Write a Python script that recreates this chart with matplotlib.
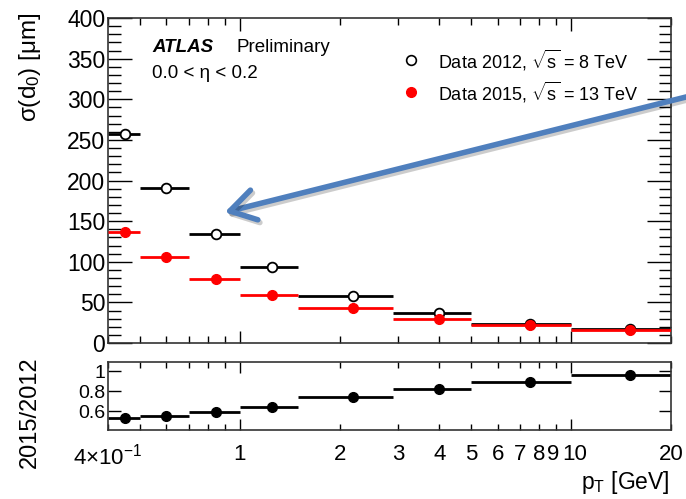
import matplotlib
matplotlib.use("Agg")
import matplotlib.pyplot as plt
from matplotlib.patches import FancyArrowPatch
import matplotlib.patheffects as pe
import matplotlib.transforms as mtransforms
import numpy as np

plt.rcParams['font.family'] = ['Liberation Sans', 'DejaVu Sans']
plt.rcParams['mathtext.fontset'] = 'custom'
plt.rcParams['mathtext.rm'] = 'Liberation Sans'
plt.rcParams['mathtext.it'] = 'Liberation Sans:italic'
plt.rcParams['mathtext.bf'] = 'Liberation Sans:bold'

# ---- data ----
bin_edges = [0.4, 0.5, 0.7, 1.0, 1.5, 2.9, 5.0, 10.0, 20.0]
bin_centers = [0.45, 0.6, 0.85, 1.25, 2.2, 4.0, 7.5, 15.0]
sigma_2012 = [257, 191, 134, 93, 58, 36.5, 24, 16.8]
sigma_2015 = [136.5, 106, 79, 59.5, 43, 30, 22, 16]
ratio = [0.537, 0.556, 0.593, 0.64, 0.74, 0.82, 0.894, 0.963]
ratio_err = [0.005, 0.005, 0.005, 0.005, 0.006, 0.008, 0.012, 0.03]

x_major = [1, 10]
x_major_labels = ['1', '10']
x_minor = [0.4, 0.5, 0.6, 0.7, 0.8, 0.9, 2, 3, 4, 5, 6, 7, 8, 9, 20]
x_minor_labels = ['4×10$^{-1}$', '', '', '', '', '', '2', '3', '4', '5',
                  '6', '7', '8', '9', '20']

W, H = 686, 499
fig = plt.figure(figsize=(W / 100, H / 100), dpi=100)

def fx(px):
    return px / W

def fy(py):
    return 1 - py / H

ax = fig.add_axes([fx(108), fy(343), fx(671) - fx(108), fy(18) - fy(343)])
axr = fig.add_axes([fx(108), fy(430), fx(671) - fx(108), fy(362) - fy(430)])

lo = bin_edges[:-1]
hi = bin_edges[1:]

# main panel
ax.hlines(sigma_2012, lo, hi, colors='black', lw=2)
ax.plot(bin_centers, sigma_2012, 'o', ms=7, mfc='white', mec='black', mew=1.3, zorder=3)
ax.hlines(sigma_2015, lo, hi, colors='red', lw=2, zorder=4)
ax.plot(bin_centers, sigma_2015, 'o', ms=7, mfc='red', mec='red', zorder=5)

for a in (ax, axr):
    a.set_xscale('log')
    a.set_xlim(0.4, 20)
    a.set_xticks(x_major)
    a.set_xticks(x_minor, minor=True)
    for s in a.spines.values():
        s.set_linewidth(1.2)
        s.set_color('#333333')

ax.set_ylim(0, 400)
ax.set_yticks(np.arange(0, 401, 50))
ax.set_yticks(np.arange(0, 401, 10), minor=True)
ax.tick_params(axis='y', which='major', direction='in', length=17, width=1,
               left=True, right=True, labelsize=16.5, pad=2)
ax.tick_params(axis='y', which='minor', direction='in', length=9, width=1,
               left=True, right=True)
ax.tick_params(axis='x', which='major', direction='in', length=9, width=1,
               top=True, bottom=True, labelbottom=False)
ax.tick_params(axis='x', which='minor', direction='in', length=5, width=1,
               top=True, bottom=True, labelbottom=False)

# ratio panel
axr.hlines(ratio, lo, hi, colors='black', lw=2)
axr.errorbar(bin_centers, ratio, yerr=ratio_err, fmt='o', ms=7, color='black',
             elinewidth=1.5, capsize=0, zorder=3)
axr.set_ylim(0.415, 1.09)
axr.set_yticks([0.6, 0.8, 1.0])
axr.set_yticklabels(['0.6', '0.8', '1'], fontsize=14)
axr.tick_params(axis='y', which='major', direction='in', length=9, width=1,
                left=True, right=True, pad=2)
axr.tick_params(axis='y', which='minor', left=False, right=False)
axr.tick_params(axis='x', which='major', direction='in', length=8, width=1,
                top=True, bottom=True, pad=10)
axr.tick_params(axis='x', which='minor', direction='in', length=4, width=1,
                top=True, bottom=True, pad=10)
axr.set_xticklabels(x_major_labels, fontsize=16)
axr.set_xticklabels(x_minor_labels, minor=True, fontsize=16)

# nudge the crowded "9" and "10" labels apart slightly
for lab in axr.xaxis.get_minorticklabels():
    if lab.get_text() == '9':
        lab.set_transform(lab.get_transform() +
                          mtransforms.ScaledTranslation(-3 / 100, 0, fig.dpi_scale_trans))
for lab in axr.xaxis.get_majorticklabels():
    if lab.get_text() == '10':
        lab.set_transform(lab.get_transform() +
                          mtransforms.ScaledTranslation(3 / 100, 0, fig.dpi_scale_trans))

# labels
fig.text(fx(30), fy(12), 'σ(d$_0$) [μm]', rotation=90, ha='center',
         va='top', fontsize=17.5)
fig.text(fx(30), fy(412), '2015/2012', rotation=90, ha='center', va='center',
         fontsize=17)
fig.text(fx(670), fy(483), 'p$_\\mathrm{T}$ [GeV]', ha='right', va='center',
         fontsize=16.5)

# ATLAS text
fig.text(fx(152), fy(47), 'ATLAS', fontsize=13.5, fontweight='bold',
         fontstyle='italic', va='center')
fig.text(fx(237), fy(47), 'Preliminary', fontsize=13.5, va='center')
fig.text(fx(152), fy(73), '0.0 < η < 0.2', fontsize=13.5, va='center')

# legend
fig.lines.append(plt.Line2D([fx(411)], [fy(60)], marker='o', ms=7, mfc='white',
                            mec='black', mew=1.2, transform=fig.transFigure))
fig.lines.append(plt.Line2D([fx(411)], [fy(92)], marker='o', ms=7, mfc='red',
                            mec='red', transform=fig.transFigure))
fig.text(fx(438), fy(60), 'Data 2012, $\\sqrt{\\mathrm{s}}$ = 8 TeV', fontsize=13,
         va='center')
fig.text(fx(438), fy(92), 'Data 2015, $\\sqrt{\\mathrm{s}}$ = 13 TeV', fontsize=13,
         va='center')

# blue arrow
arrow = FancyArrowPatch((fx(690), fy(96)), (fx(222), fy(213)),
                        transform=fig.transFigure,
                        arrowstyle='->,head_length=0.9,head_width=0.55',
                        mutation_scale=20, lw=4, color='#4f7fbd',
                        capstyle='round', joinstyle='round',
                        path_effects=[pe.SimpleLineShadow(offset=(1.5, -2), alpha=0.2,
                                                          shadow_color='black'),
                                      pe.Normal()])
fig.add_artist(arrow)

fig.savefig('out.png', dpi=100)
